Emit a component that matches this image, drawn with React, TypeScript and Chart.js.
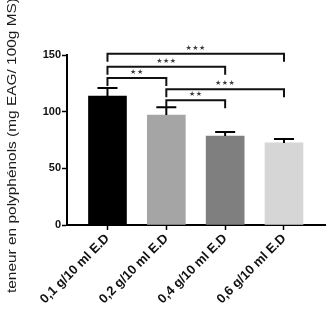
import React, { useEffect, useRef } from "react";
import { Chart, registerables } from "chart.js";

Chart.register(...registerables);

// Extract concentrations and polyphenol content (mean, SEM)
const categories = ["0,1 g/10 ml E.D", "0,2 g/10 ml E.D", "0,4 g/10 ml E.D", "0,6 g/10 ml E.D"];
const means = [113.8, 97, 78.5, 72.4];
const sems = [7, 7, 3.5, 3.4];
const barColors = ["#000000", "#a5a5a5", "#7f7f7f", "#d6d6d6"];
const yTicks = [0, 50, 100, 150];
const yTitle = "teneur en polyphénols (mg EAG/ 100g MS)";

// Significance brackets between groups
const bracketFrom = [0, 0, 0, 1, 1];
const bracketTo = [3, 2, 1, 3, 2];
const bracketLevels = [151, 139.7, 129.7, 119.7, 110];
const bracketStars = ["★★★", "★★★", "★★", "★★★", "★★"];

const FONT = "'Liberation Sans', Arial, sans-serif";

const overlayPlugin = {
  id: "overlay",
  afterDatasetsDraw(chart: any) {
    const ctx = chart.ctx as CanvasRenderingContext2D;
    const xs = chart.scales.x;
    const ys = chart.scales.y;
    ctx.save();

    // upper error bars
    ctx.strokeStyle = "#000";
    ctx.lineWidth = 2;
    means.forEach((m, i) => {
      const x = xs.getPixelForValue(i + 1);
      const yTop = ys.getPixelForValue(m + sems[i]);
      const yBar = ys.getPixelForValue(m);
      ctx.beginPath();
      ctx.moveTo(x, yBar);
      ctx.lineTo(x, yTop);
      ctx.moveTo(x - 10, yTop);
      ctx.lineTo(x + 10, yTop);
      ctx.stroke();
    });

    // significance brackets
    ctx.strokeStyle = "#111";
    ctx.lineWidth = 2;
    bracketLevels.forEach((lvl, k) => {
      const x1 = xs.getPixelForValue(bracketFrom[k] + 1);
      const x2 = xs.getPixelForValue(bracketTo[k] + 1);
      const y = ys.getPixelForValue(lvl);
      ctx.beginPath();
      ctx.moveTo(x1, y + 8);
      ctx.lineTo(x1, y);
      ctx.lineTo(x2, y);
      ctx.lineTo(x2, y + 8);
      ctx.stroke();
      ctx.fillStyle = "#3a3a3a";
      ctx.font = "7px 'DejaVu Sans', sans-serif";
      ctx.textAlign = "center";
      ctx.textBaseline = "alphabetic";
      (ctx as any).letterSpacing = "0.5px";
      ctx.fillText(bracketStars[k], (x1 + x2) / 2, y - 4);
      (ctx as any).letterSpacing = "0px";
    });

    // vertical axis title
    ctx.fillStyle = "#1a1a1a";
    ctx.font = `12px ${FONT}`;
    const w = ctx.measureText(yTitle).width;
    ctx.translate(13, 145.5);
    ctx.rotate(-Math.PI / 2);
    ctx.scale(295 / w, 1);
    ctx.textAlign = "center";
    ctx.textBaseline = "middle";
    ctx.fillText(yTitle, 0, 0);
    ctx.restore();
  },
};

export default function App() {
  const canvasRef = useRef<HTMLCanvasElement | null>(null);

  useEffect(() => {
    if (!canvasRef.current) return;
    const chart = new Chart(canvasRef.current, {
      type: "bar",
      data: {
        datasets: [
          {
            data: means.map((v, i) => ({ x: i + 1, y: v })),
            backgroundColor: barColors,
            borderWidth: 0,
            barThickness: 38,
          },
        ],
      },
      options: {
        animation: false,
        responsive: false,
        maintainAspectRatio: false,
        layout: { padding: { top: 55, right: 2, left: 0, bottom: 0 } },
        plugins: {
          legend: { display: false },
          tooltip: { enabled: false },
        },
        scales: {
          x: {
            type: "linear",
            offset: false,
            min: 0.312,
            max: 4.697,
            afterBuildTicks: (scale: any) => {
              scale.ticks = categories.map((_, i) => ({ value: i + 1 }));
            },
            afterFit: (scale: any) => {
              scale.height = 91;
            },
            ticks: {
              autoSkip: false,
              maxRotation: 45,
              minRotation: 45,
              padding: 1,
              color: "#111",
              font: { family: FONT, size: 13, weight: "bold" },
              callback: (_v: any, i: number) => categories[i],
            },
            grid: {
              offset: false,
              drawOnChartArea: false,
              drawTicks: true,
              tickLength: 5,
              tickWidth: 1.5,
              tickColor: "#000",
            },
            border: { display: true, color: "#000", width: 2 },
          },
          y: {
            min: 0,
            max: 150,
            afterBuildTicks: (scale: any) => {
              scale.ticks = yTicks.map((v) => ({ value: v }));
            },
            afterFit: (scale: any) => {
              scale.width = 67;
            },
            ticks: {
              padding: 1,
              color: "#111",
              font: { family: FONT, size: 11, weight: "bold" },
            },
            grid: {
              drawOnChartArea: false,
              drawTicks: true,
              tickLength: 5,
              tickWidth: 1.5,
              tickColor: "#000",
            },
            border: { display: true, color: "#000", width: 2 },
          },
        },
      },
      plugins: [overlayPlugin],
    });
    return () => chart.destroy();
  }, []);

  return (
    <div style={{ position: "fixed", left: 0, top: 0, width: 327, height: 316, background: "#fff" }}>
      <canvas ref={canvasRef} width={327} height={316} />
    </div>
  );
}
